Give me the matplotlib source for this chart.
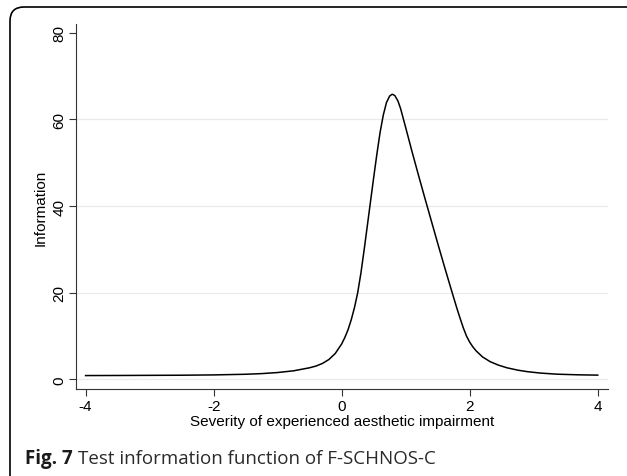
import matplotlib
matplotlib.use("Agg")
import matplotlib.pyplot as plt
from matplotlib.patches import FancyBboxPatch
from matplotlib.transforms import IdentityTransform

# test information
theta = [-4.0, -3.5, -3.0, -2.5, -2.0, -1.5, -1.25, -1.0, -0.75, -0.5, -0.4, -0.3,
         -0.2, -0.1, 0.0, 0.05, 0.1, 0.15, 0.2, 0.25, 0.3, 0.35, 0.4, 0.45, 0.5,
         0.55, 0.6, 0.65, 0.7, 0.75, 0.79, 0.83, 0.88, 0.92, 0.96, 1.0, 1.05,
         1.1, 1.2, 1.3, 1.4, 1.5, 1.6, 1.7, 1.8, 1.85, 1.9, 1.95, 2.0, 2.05,
         2.1, 2.2, 2.32, 2.45, 2.58, 2.75, 2.9, 3.1, 3.36, 3.7, 4.0]
info = [0.9, 0.92, 0.95, 0.98, 1.05, 1.2, 1.35, 1.6, 2.0, 2.7, 3.1, 3.7,
        4.6, 6.0, 8.2, 9.7, 11.5, 13.8, 16.6, 20.0, 24.5, 29.8, 35.4, 41.0, 46.6,
        52.0, 57.0, 61.0, 63.9, 65.4, 65.8, 65.5, 64.2, 62.5, 60.3, 58.1, 55.3,
        52.5, 47.1, 41.8, 36.6, 31.4, 26.3, 21.3, 16.4, 14.1, 11.9, 10.0, 8.6, 7.5,
        6.6, 5.2, 4.1, 3.3, 2.7, 2.15, 1.8, 1.48, 1.22, 1.07, 1.0]

xticks = [-4, -2, 0, 2, 4]
yticks = [0, 20, 40, 60, 80]
grid_at = [0, 20, 40, 60]

W, H = 627, 477
fig = plt.figure(figsize=(W / 100, H / 100), dpi=100)
ax = fig.add_axes([76 / W, 1 - 390 / H, (608 - 76) / W, (390 - 25) / H])

for g in grid_at:
    ax.axhline(g, color="#eaeaea", lw=0.9, zorder=0)
ax.plot(theta, info, color="black", lw=1.1, zorder=2)

ax.set_xlim(-4.15, 4.16)
ax.set_ylim(-2.2, 82.0)
ax.set_xticks(xticks)
ax.set_yticks(yticks)
ax.set_xticklabels(["-4", "-2", "0", "2", "4"])

for s in ["top", "right"]:
    ax.spines[s].set_visible(False)
for s in ["left", "bottom"]:
    ax.spines[s].set_linewidth(0.8)
    ax.spines[s].set_color("#333333")

fam = ["Liberation Sans", "DejaVu Sans"]
ax.tick_params(axis="both", length=5, width=0.8, color="#333333", labelsize=11,
               pad=2)
for lab in ax.get_xticklabels() + ax.get_yticklabels():
    lab.set_family(fam)
for lab in ax.get_yticklabels():
    lab.set_rotation(90)
    lab.set_va("center")
ax.set_xlabel("Severity of experienced aesthetic impairment", family=fam,
              fontsize=11, labelpad=1)
ax.set_ylabel("Information", family=fam, fontsize=11, labelpad=3)

# rounded frame around the whole figure (runs off right and bottom)
frame = FancyBboxPatch((10, -30), 640, H - 8 + 30,
                       boxstyle="round,pad=0,rounding_size=14",
                       transform=IdentityTransform(), fill=False,
                       ec="black", lw=1.2)
fig.patches.append(frame)

# caption
cap_y = 1 - 464 / H
t1 = fig.text(25 / W, cap_y, "Fig. 7", family="Open Sans", fontweight="bold",
              fontsize=13.5, color="#1a1a1a", va="baseline")
fig.canvas.draw()
r = fig.canvas.get_renderer()
bb = t1.get_window_extent(r)
fig.text((bb.x1 + 5) / W, cap_y, "Test information function of F-SCHNOS-C",
         family="Open Sans", fontsize=13.5, color="#2a2a2a", va="baseline")

fig.savefig("out.png", dpi=100)
